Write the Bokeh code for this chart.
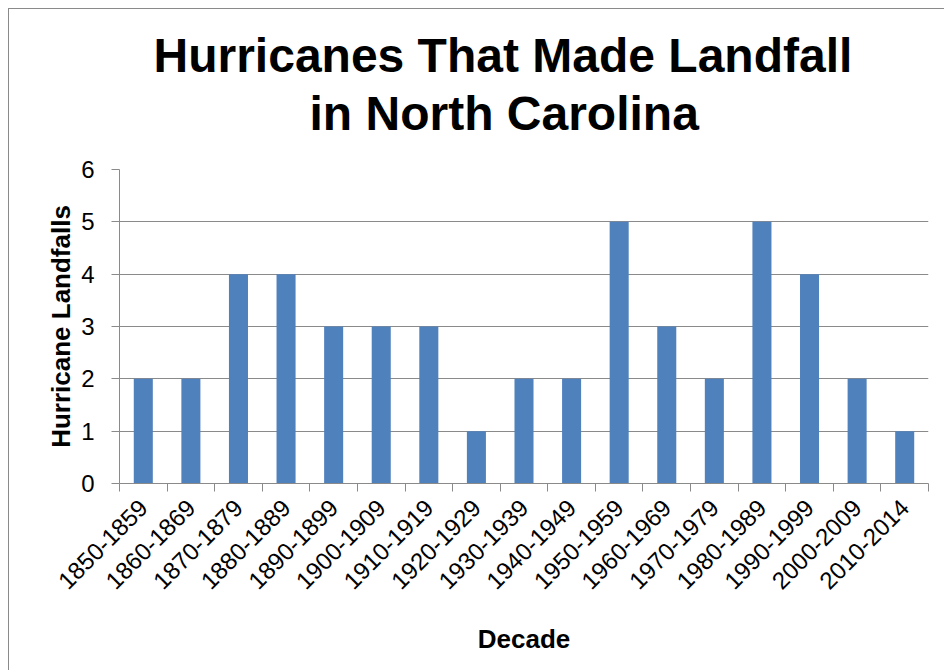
from bokeh.plotting import figure
from bokeh.models import Range1d, FixedTicker, Title
from bokeh.embed import file_html
from bokeh.resources import INLINE
import math

# ---- data ----
decades = ["1850-1859", "1860-1869", "1870-1879", "1880-1889", "1890-1899",
           "1900-1909", "1910-1919", "1920-1929", "1930-1939", "1940-1949",
           "1950-1959", "1960-1969", "1970-1979", "1980-1989", "1990-1999",
           "2000-2009", "2010-2014"]
landfalls = [2, 2, 4, 4, 3, 3, 3, 1, 2, 2, 5, 3, 2, 5, 4, 2, 1]
y_ticks = [0, 1, 2, 3, 4, 5, 6]
title_line1 = "Hurricanes That Made Landfall"
title_line2 = "in North Carolina"
x_label = "Decade"
y_label = "Hurricane Landfalls"

FONT = "Liberation Sans"
GRAY = "#8a8a8a"
BAR = "#4F81BD"

n = len(decades)
centers = [i + 0.5 for i in range(n)]
bounds = list(range(n + 1))

p = figure(width=936, height=662, output_backend="svg", toolbar_location=None,
           x_range=Range1d(0, n), y_range=Range1d(0, 6), title=None,
           min_border_left=110, min_border_right=17, min_border_top=160,
           min_border_bottom=188)

p.styles = {"border-left": "1px solid " + GRAY, "border-top": "1px solid " + GRAY,
            "margin-left": "8px", "margin-top": "8px"}

p.vbar(x=centers, top=landfalls, width=0.4, fill_color=BAR, line_color=None)

p.outline_line_color = None
p.xgrid.grid_line_color = None
p.ygrid.grid_line_color = GRAY
p.ygrid.grid_line_width = 1
p.ygrid.ticker = FixedTicker(ticks=y_ticks)

# y axis
ya = p.yaxis[0]
ya.ticker = FixedTicker(ticks=y_ticks)
ya.axis_line_color = GRAY
ya.major_tick_line_color = GRAY
ya.major_tick_out = 8
ya.major_tick_in = 0
ya.minor_tick_line_color = None
ya.major_label_text_font = FONT
ya.major_label_text_font_size = "24px"
ya.major_label_text_color = "black"
ya.major_label_standoff = 17
ya.axis_label = y_label
ya.axis_label_text_font = FONT
ya.axis_label_text_font_size = "26px"
ya.axis_label_text_font_style = "bold"
ya.axis_label_text_color = "black"
ya.axis_label_standoff = 2

# x axis
xa = p.xaxis[0]
xa.ticker = FixedTicker(ticks=centers, minor_ticks=bounds)
xa.major_label_overrides = {c: d for c, d in zip(centers, decades)}
xa.axis_line_color = GRAY
xa.major_tick_out = 0
xa.major_tick_in = 0
xa.major_tick_line_color = None
xa.minor_tick_line_color = GRAY
xa.minor_tick_out = 8
xa.minor_tick_in = 0
xa.major_label_orientation = math.pi / 4
xa.major_label_text_font = FONT
xa.major_label_text_font_size = "24px"
xa.major_label_text_color = "black"
xa.major_label_standoff = 12
xa.axis_label = x_label
xa.axis_label_text_font = FONT
xa.axis_label_text_font_size = "26px"
xa.axis_label_text_font_style = "bold"
xa.axis_label_text_color = "black"
xa.axis_label_standoff = 24

# titles (line 2 first so it sits closest to the plot)
t2 = Title(text=title_line2, align="left", text_font=FONT, text_font_size="48px",
           text_font_style="bold", text_color="black", standoff=60, offset=190)
t1 = Title(text=title_line1, align="left", text_font=FONT, text_font_size="48px",
           text_font_style="bold", text_color="black", standoff=-55, offset=34)
p.add_layout(t2, "above")
p.add_layout(t1, "above")

open("out.html", "w").write(file_html(p, INLINE))
